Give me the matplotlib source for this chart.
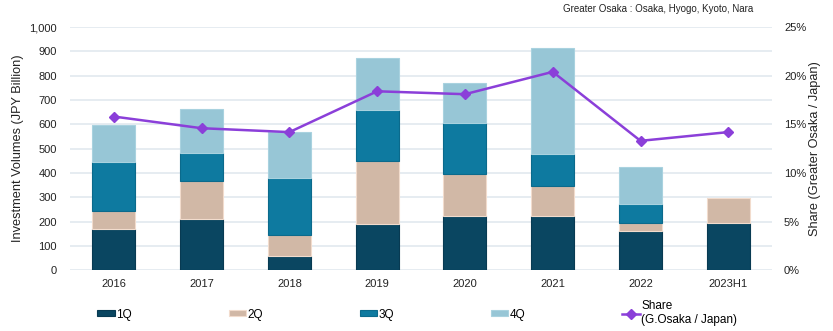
import numpy as np
import matplotlib.pyplot as plt
from matplotlib.ticker import FuncFormatter

plt.rcParams['font.family'] = ['Liberation Sans', 'DejaVu Sans']

years = ['2016', '2017', '2018', '2019', '2020', '2021', '2022', '2023H1']
q1 = [170, 212, 60, 188, 224, 222, 162, 195]
q2 = [75, 155, 85, 262, 171, 125, 33, 101]
q3 = [200, 113, 236, 211, 209, 129, 77, 0]
q4 = [152, 185, 188, 212, 167, 439, 151, 0]
share = [15.8, 14.6, 14.2, 18.4, 18.1, 20.4, 13.3, 14.2]

colors = ['#0A4661', '#D1B8A6', '#0E7AA0', '#97C6D6']
edges = ['#083A52', '#F2DCCD', '#0B6A8C', '#A9D2DF']
line_color = '#8B3FD9'

fig = plt.figure(figsize=(8.33, 3.31), dpi=100)
ax = fig.add_axes([0.084, 0.184, 0.843, 0.734])
ax2 = ax.twinx()

x = np.arange(len(years))
bottom = np.zeros(len(years))
handles = []
for vals, lab, c, ec in zip([q1, q2, q3, q4], ['1Q', '2Q', '3Q', '4Q'], colors, edges):
    v = np.array(vals, dtype=float)
    b = ax.bar(x, v, 0.49, bottom=bottom, color=c, edgecolor=ec, linewidth=0.8,
               label=lab, zorder=3)
    # empty quarters (2023H1) should leave no sliver
    for patch, val in zip(b.patches, v):
        if val == 0:
            patch.set_visible(False)
    handles.append(b)
    bottom += v

ln, = ax2.plot(x, share, color=line_color, lw=1.8, marker='D', markersize=5,
               label='Share\n(G.Osaka / Japan)', zorder=4)
handles.append(ln)

ax.set_xlim(-0.5, len(years) - 0.5)
ax.set_ylim(0, 1000)
ax.set_yticks(range(0, 1001, 100))
ax.yaxis.set_major_formatter(FuncFormatter(lambda v, p: f'{int(v):,}'))
ax2.set_ylim(0, 25)
ax2.set_yticks(range(0, 26, 5))
ax2.yaxis.set_major_formatter(FuncFormatter(lambda v, p: f'{int(v)}%'))

ax.set_xticks(x)
ax.set_xticklabels(years)
ax.grid(axis='y', color='#E4EAF0', lw=1.3, zorder=0)
ax.set_axisbelow(True)

for a in (ax, ax2):
    for s in a.spines.values():
        s.set_visible(False)
    a.tick_params(length=0, labelsize=8, colors='#222222')
ax.tick_params(axis='y', pad=9.5)
ax.tick_params(axis='x', pad=6.5)
ax2.tick_params(axis='y', pad=8.5)

ax.set_ylabel('Investment Volumes (JPY Billion)', fontsize=9.2, color='#222222', labelpad=4)
ax2.set_ylabel('Share (Greater Osaka / Japan)', fontsize=9.2, color='#222222', labelpad=2)

fig.text(0.904, 0.972, 'Greater Osaka : Osaka, Hyogo, Kyoto, Nara', fontsize=7,
         ha='right', va='center', color='#222222')

fig.legend(handles=handles, loc='upper left', bbox_to_anchor=(0.117, 0.093), ncol=5,
           frameon=False, fontsize=8.5, handlelength=1.45, handleheight=0.4,
           handletextpad=0.15, columnspacing=8.2, borderaxespad=0, borderpad=0)

fig.savefig('out.png', dpi=100)
